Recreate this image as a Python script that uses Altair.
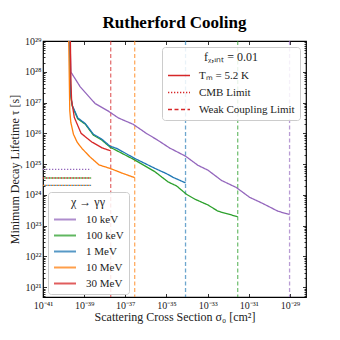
import json
import altair as alt
import pandas as pd

# ---------------- data (log10 units) ----------------
energies = ["10 keV", "100 keV", "1 MeV", "10 MeV", "30 MeV"]
colors = ["#9467bd", "#2ca02c", "#1f77b4", "#ff7f0e", "#d62728"]

logsig_10keV = [-39.71, -39.644, -39.19, -38.47, -37.82, -37.34, -36.61, -35.96, -35.48,
                -34.84, -34.08, -33.47, -32.98, -32.33, -31.61, -30.96, -30.32, -29.59, -29.02]
logtau_10keV = [29.5, 27.99, 27.51, 26.97, 26.72, 26.50, 26.29, 25.99, 25.80,
                25.52, 25.26, 24.96, 24.80, 24.47, 24.24, 23.92, 23.72, 23.47, 23.36]

logsig_100keV = [-39.73, -39.65, -39.58, -39.31, -38.95, -38.55, -38.14, -37.74, -36.53,
                 -35.56, -34.92, -34.51, -34.03, -33.62, -32.98, -32.50, -31.54]
logtau_100keV = [29.5, 27.22, 26.89, 26.47, 26.30, 25.94, 25.78, 25.55, 25.13,
                 24.75, 24.42, 24.29, 24.02, 23.86, 23.67, 23.47, 23.29]

logsig_1MeV = [-39.74, -39.65, -39.58, -39.31, -38.95, -38.55, -38.14, -37.74, -37.42,
               -36.53, -35.56, -35.0, -34.68, -34.075]
logtau_1MeV = [29.5, 27.24, 26.91, 26.50, 26.32, 25.97, 25.81, 25.58, 25.51,
               25.18, 24.86, 24.69, 24.57, 24.39]

logsig_10MeV = [-39.76, -39.70, -39.65, -39.52, -39.34, -39.11, -38.71, -38.27, -37.74, -37.17, -36.545]
logtau_10MeV = [29.5, 26.75, 26.36, 25.97, 25.71, 25.51, 25.23, 24.97, 24.86, 24.71, 24.56]

logsig_30MeV = [-39.68, -39.64, -39.61, -39.48, -39.15, -38.63, -38.14, -37.71]
logtau_30MeV = [29.5, 27.6, 27.07, 26.52, 26.0, 25.72, 25.53, 25.43]

weak_logsig = [-29.02, -31.54, -34.075, -36.545, -37.71]   # weak coupling limits
cmb_logtau = [24.83, 24.55, 24.31, 24.31, 24.55]           # CMB limits
cmb_logsig_span = [-41.0, -38.66]

x_tick_exp = [-41, -39, -37, -35, -33, -31, -29]
x_tick_labels = ["10⁻⁴¹", "10⁻³⁹", "10⁻³⁷", "10⁻³⁵", "10⁻³³", "10⁻³¹", "10⁻²⁹"]
y_tick_exp = [21, 22, 23, 24, 25, 26, 27, 28, 29]
y_tick_labels = ["10²¹", "10²²", "10²³", "10²⁴", "10²⁵", "10²⁶", "10²⁷", "10²⁸", "10²⁹"]

style_names = ["Tₘ = 5.2 K", "CMB Limit", "Weak Coupling Limit"]

# ---------------- tables ----------------
series = [(logsig_10keV, logtau_10keV), (logsig_100keV, logtau_100keV), (logsig_1MeV, logtau_1MeV),
          (logsig_10MeV, logtau_10MeV), (logsig_30MeV, logtau_30MeV)]
rows = []
for e, (xs, ys) in zip(energies, series):
    for i, (a, b) in enumerate(zip(xs, ys)):
        rows.append({"sigma": 10 ** a, "tau": 10 ** b, "energy": e, "style": style_names[0], "idx": i})
curve_df = pd.DataFrame(rows)

weak_df = pd.DataFrame({"sigma": [10 ** v for v in weak_logsig], "energy": energies,
                        "style": style_names[2]})

cmb_rows1, cmb_rows2 = [], []
for k, (e, t) in enumerate(zip(energies, cmb_logtau)):
    target = cmb_rows2 if e in ("100 keV", "1 MeV") else cmb_rows1
    for i, s in enumerate(cmb_logsig_span):
        target.append({"sigma": 10 ** s, "tau": 10 ** t, "energy": e, "style": style_names[1], "idx": i})
cmb_df1 = pd.DataFrame(cmb_rows1)
cmb_df2 = pd.DataFrame(cmb_rows2)

# ---------------- styling ----------------
W, H = 263, 256
FONT = "Liberation Serif"

xscale = alt.Scale(type="log", domain=[1e-41, 6e-29], nice=False)
yscale = alt.Scale(type="log", domain=[4.8e20, 1e29], nice=False)

y_minor = [m * 10 ** e for e in range(20, 29) for m in range(2, 10) if 4.8e20 <= m * 10 ** e <= 1e29]
y_major = [10.0 ** e for e in y_tick_exp]
x_major = [10.0 ** e for e in x_tick_exp]

major_test = "abs(log(datum.value)/LN10 - round(log(datum.value)/LN10)) < 0.001"

x_label_expr = json.dumps(x_tick_labels, ensure_ascii=False) + \
    "[round((log(datum.value)/LN10 + 41)/2)]"
y_label_expr = json.dumps(y_tick_labels, ensure_ascii=False) + \
    "[round(log(datum.value)/LN10) - 21]"

x_label_axis = alt.Axis(orient="bottom", values=x_major, labelExpr=x_label_expr, ticks=False,
                        domain=False, labelFlush=False, labelOverlap=False, labelPadding=3,
                        title="Scattering Cross Section σ₀ [cm²]", titlePadding=1)
x_in_top = alt.Axis(orient="bottom", offset=-H, values=x_major, labels=False, domain=False,
                    title=None, tickSize=3.5)
x_in_bottom = alt.Axis(orient="top", offset=-H, values=x_major, labels=False, domain=False,
                       title=None, tickSize=3.5)

y_label_axis = alt.Axis(orient="left", values=y_major, labelExpr=y_label_expr, ticks=False,
                        domain=False, labelFlush=False, labelOverlap=False, labelPadding=2,
                        title="Minimum Decay Lifetime τ [s]", titlePadding=3)
y_tick_size = {"condition": {"test": major_test, "value": 3.5}, "value": 2}
y_in_left = alt.Axis(orient="right", offset=-W, values=y_major + y_minor, labels=False,
                     domain=False, title=None, tickSize=y_tick_size)
y_in_right = alt.Axis(orient="left", offset=-W, values=y_major + y_minor, labels=False,
                      domain=False, title=None, tickSize=y_tick_size)

color = alt.Color("energy:N", scale=alt.Scale(domain=energies, range=colors),
                  legend=alt.Legend(title="χ → γγ", orient="none", legendX=5, legendY=151,
                                    symbolType="M-1,0H3", symbolSize=121, symbolStrokeWidth=2,
                                    symbolOpacity=0.75, labelOffset=20, titleAnchor="middle",
                                    fillColor="rgba(255,255,255,0.85)", strokeColor="#cccccc",
                                    cornerRadius=3, padding=5, rowPadding=4, titlePadding=4,
                                    labelFontSize=11, titleFontSize=12))
dash = alt.StrokeDash("style:N",
                      scale=alt.Scale(domain=style_names, range=[[1, 0], [1.3, 1.7], [4, 2.5]]),
                      legend=alt.Legend(title="fᵪ,ᵢₙₜ = 0.01", orient="none", legendX=119, legendY=6,
                                        symbolType="M-1,0H3", symbolSize=121, symbolStrokeWidth=1.5,
                                        symbolStrokeColor="#d62728", symbolOpacity=1,
                                        labelOffset=19, titleAnchor="middle",
                                        fillColor="rgba(255,255,255,0.85)", strokeColor="#cccccc",
                                        cornerRadius=3, padding=5, rowPadding=5, titlePadding=5,
                                        labelFontSize=11, titleFontSize=12))

rules = alt.Chart(weak_df).mark_rule(strokeWidth=1.3, opacity=0.65, clip=True).encode(
    x=alt.X("sigma:Q", scale=xscale, axis=x_label_axis),
    color=color, strokeDash=dash)

cmb1 = alt.Chart(cmb_df1).mark_line(strokeWidth=1.4, clip=True).encode(
    x=alt.X("sigma:Q", scale=xscale, axis=x_in_bottom),
    y=alt.Y("tau:Q", scale=yscale, axis=y_in_left),
    color=color, strokeDash=dash, order="idx:Q")

cmb2 = alt.Chart(cmb_df2).mark_line(strokeWidth=1.4, clip=True, strokeDashOffset=1.5).encode(
    x=alt.X("sigma:Q", scale=xscale, axis=None),
    y=alt.Y("tau:Q", scale=yscale, axis=y_in_right),
    color=color, strokeDash=dash, order="idx:Q")

curves = alt.Chart(curve_df).mark_line(strokeWidth=1.3, clip=True).encode(
    x=alt.X("sigma:Q", scale=xscale, axis=x_in_top),
    y=alt.Y("tau:Q", scale=yscale, axis=y_label_axis),
    color=color, strokeDash=dash, order="idx:Q")

chart = alt.layer(rules, cmb1, cmb2, curves).resolve_axis(
    x="independent", y="independent"
).properties(
    width=W, height=H,
    title=alt.Title("Rutherford Cooling", font=FONT, fontSize=17, fontWeight="bold",
                    anchor="middle", frame="group", offset=4, color="#000000"),
    autosize=alt.AutoSizeParams(type="none"),
    padding={"left": 35, "top": 33, "right": 26, "bottom": 35},
).configure_view(
    stroke="#000000", strokeWidth=1.2
).configure_axis(
    grid=False, labelFont=FONT, titleFont=FONT, labelFontSize=10, titleFontSize=12,
    titleFontWeight="normal", labelColor="#222222", titleColor="#222222",
    tickColor="#000000", tickWidth=0.8
).configure_legend(
    labelFont=FONT, titleFont=FONT, titleFontWeight="normal", labelColor="#222222",
    titleColor="#222222"
)

chart.save("out.html", embed_options={"renderer": "svg", "actions": False})
